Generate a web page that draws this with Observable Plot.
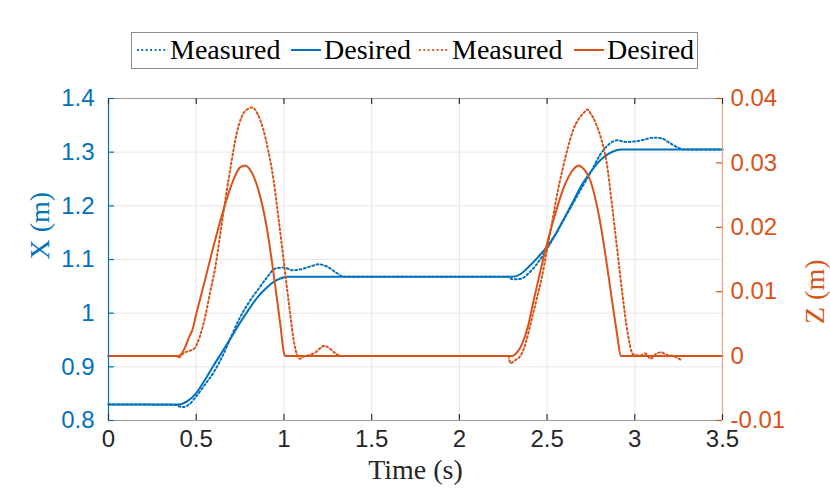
<!DOCTYPE html>
<html>
<head>
<meta charset="utf-8">
<script src="https://cdn.jsdelivr.net/npm/d3@7"></script>
<script src="https://cdn.jsdelivr.net/npm/@observablehq/plot@0.6"></script>
<style>
  html, body { margin: 0; padding: 0; background: #fff; }
  #wrap { width: 830px; height: 491px; position: relative; overflow: hidden; }
  #legendArea { width: 830px; height: 80px; position: relative; }
  #legend { position: absolute; left: 131px; top: 32px; width: 567px; height: 37px;
            border: 1px solid #8c8c8c; background: #fff; box-sizing: border-box; }
  #legend .item { position: absolute; top: 0; height: 35px; line-height: 33px;
            font-family: "Liberation Serif", serif; font-size: 28px; color: #000; white-space: nowrap; }
  #legend svg { position: absolute; top: 0; }
</style>
</head>
<body>
<div id="wrap">
  <div id="legendArea"><div id="legend"></div></div>
  <div id="chart"></div>
</div>
<script>
// ---- Data ----
const blue = "#0072BD";
const orange = "#D95319";

// Desired X (m)
const dxT = [0, 0.40, 0.45, 0.50, 0.55, 0.60, 0.65, 0.70, 0.75, 0.80, 0.85, 0.90, 0.95, 1.00, 1.02,
             2.30, 2.35, 2.40, 2.45, 2.50, 2.55, 2.60, 2.65, 2.70, 2.75, 2.80, 2.85, 2.90, 2.92, 3.50];
const dxV = [0.830, 0.830, 0.836, 0.851, 0.876, 0.903, 0.929, 0.955, 0.982, 1.007, 1.030, 1.047, 1.060, 1.067, 1.068,
             1.068, 1.073, 1.088, 1.105, 1.124, 1.148, 1.178, 1.209, 1.240, 1.264, 1.284, 1.297, 1.304, 1.305, 1.305];

// Measured X (m)
const mxT = [0, 0.38, 0.42, 0.46, 0.50, 0.55, 0.60, 0.65, 0.70, 0.75, 0.80, 0.85, 0.90, 0.95, 1.00, 1.05, 1.10, 1.15, 1.20, 1.25, 1.30, 1.34,
             2.28, 2.30, 2.35, 2.40, 2.45, 2.50, 2.55, 2.60, 2.65, 2.70, 2.75, 2.80, 2.85, 2.90, 2.95, 3.00, 3.05, 3.10, 3.15, 3.20, 3.25, 3.28, 3.50];
const mxV = [0.830, 0.829, 0.825, 0.830, 0.845, 0.867, 0.890, 0.920, 0.957, 0.992, 1.020, 1.043, 1.065, 1.083, 1.085, 1.080, 1.082, 1.087, 1.091, 1.086, 1.075, 1.068,
             1.068, 1.063, 1.064, 1.076, 1.095, 1.120, 1.148, 1.177, 1.206, 1.235, 1.263, 1.294, 1.314, 1.322, 1.319, 1.320, 1.323, 1.327, 1.326, 1.317, 1.308, 1.305, 1.305];

// Desired Z (m)
const dzT = [0, 0.40, 0.43, 0.46, 0.48, 0.50, 0.55, 0.60, 0.65, 0.70, 0.75, 0.78, 0.80, 0.85, 0.90, 0.95, 0.98, 1.00, 1.01,
             2.30, 2.33, 2.36, 2.39, 2.42, 2.45, 2.50, 2.55, 2.60, 2.65, 2.68, 2.70, 2.75, 2.80, 2.85, 2.88, 2.90, 2.92, 3.50];
const dzV = [0, 0, 0.0010, 0.0030, 0.0042, 0.0065, 0.0118, 0.0172, 0.0222, 0.0265, 0.0293, 0.0296, 0.0292, 0.0262, 0.0203, 0.0110, 0.0048, 0.0005, 0,
             0, 0.0006, 0.0020, 0.0045, 0.0082, 0.0118, 0.0175, 0.0224, 0.0265, 0.0290, 0.0296, 0.0293, 0.0270, 0.0212, 0.0125, 0.0068, 0.0032, 0, 0];

// Measured Z (m)
const mzT = [0, 0.38, 0.40, 0.43, 0.46, 0.49, 0.52, 0.55, 0.58, 0.61, 0.64, 0.67, 0.70, 0.73, 0.76, 0.79, 0.82, 0.85, 0.88, 0.91, 0.94, 0.97,
             1.00, 1.03, 1.06, 1.09, 1.12, 1.15, 1.18, 1.21, 1.23, 1.26, 1.29, 1.33,
             2.28, 2.29, 2.32, 2.35, 2.38, 2.41, 2.44, 2.47, 2.50, 2.53, 2.56, 2.59, 2.62, 2.65, 2.68, 2.71, 2.73, 2.75, 2.78, 2.81, 2.84, 2.87,
             2.90, 2.93, 2.96, 2.99, 3.03, 3.06, 3.09, 3.12, 3.15, 3.18, 3.22, 3.27];
const mzV = [0, 0, -0.0002, 0.0005, 0.0008, 0.0012, 0.0030, 0.0060, 0.0100, 0.0140, 0.0195, 0.0250, 0.0300, 0.0345, 0.0372, 0.0383, 0.0386, 0.0376, 0.0354, 0.0320, 0.0275, 0.0212,
             0.0145, 0.0078, 0.0018, -0.0004, 0.0000, 0.0002, 0.0006, 0.0013, 0.0016, 0.0012, 0.0005, 0,
             0, -0.0011, -0.0006, 0.0001, 0.0022, 0.0055, 0.0088, 0.0122, 0.0165, 0.0210, 0.0255, 0.0292, 0.0325, 0.0352, 0.0368, 0.0378, 0.0383, 0.0376, 0.0360, 0.0336, 0.0300, 0.0235,
             0.0165, 0.0095, 0.0035, 0.0003, 0.0001, 0.0004, -0.0004, 0.0003, 0.0006, 0.0002, 0.0000, -0.0007];

// Axes
const xDomain = [0, 3.5];
const xTicks = [0, 0.5, 1, 1.5, 2, 2.5, 3, 3.5];
const yDomain = [0.8, 1.4];
const yTicks = [0.8, 0.9, 1.0, 1.1, 1.2, 1.3, 1.4];
const zDomain = [-0.01, 0.04];
const zTicks = [-0.01, 0, 0.01, 0.02, 0.03, 0.04];

const legendItems = [
  {label: "Measured", color: blue, dotted: true},
  {label: "Desired", color: blue, dotted: false},
  {label: "Measured", color: orange, dotted: true},
  {label: "Desired", color: orange, dotted: false}
];

// ---- helpers ----
const zToY = z => yDomain[0] + (z - zDomain[0]) * (yDomain[1] - yDomain[0]) / (zDomain[1] - zDomain[0]);
const yToZ = y => zDomain[0] + (y - yDomain[0]) * (zDomain[1] - zDomain[0]) / (yDomain[1] - yDomain[0]);
const rows = (T, V) => T.map((t, i) => ({t, v: V[i]}));

const dX = rows(dxT, dxV), mX = rows(mxT, mxV), dZ = rows(dzT, dzV), mZ = rows(mzT, mzV);

const dash = "1.8,2.6";
const serif = "Liberation Serif";
const curve = "monotone-x";

const chart = Plot.plot({
  width: 830,
  height: 411,
  marginTop: 18,
  marginBottom: 71,
  marginLeft: 108,
  marginRight: 108,
  style: {fontFamily: "Liberation Sans", fontSize: "24px", background: "#fff"},
  x: {domain: xDomain},
  y: {domain: yDomain},
  marks: [
    Plot.gridX(xTicks, {stroke: "#e6e6e6", strokeOpacity: 1}),
    Plot.gridY(yTicks, {stroke: "#e6e6e6", strokeOpacity: 1}),
    Plot.line(mX, {x: "t", y: "v", curve, stroke: blue, strokeWidth: 2, strokeDasharray: dash}),
    Plot.line(dX, {x: "t", y: "v", curve, stroke: blue, strokeWidth: 2}),
    Plot.line(mZ, {x: "t", y: d => zToY(d.v), curve, stroke: orange, strokeWidth: 2, strokeDasharray: dash}),
    Plot.line(dZ, {x: "t", y: d => zToY(d.v), curve, stroke: orange, strokeWidth: 2}),
    // box
    Plot.ruleY([yDomain[0], yDomain[1]], {stroke: "#999", strokeWidth: 1.2}),
    Plot.ruleX([xDomain[0]], {stroke: blue, strokeWidth: 1.2}),
    Plot.ruleX([xDomain[1]], {stroke: "#e8a385", strokeWidth: 1.2}),
    // inward ticks
    Plot.ruleX(xTicks, {x: d => d, y1: yDomain[0], y2: yDomain[0], insetBottom: 6, stroke: "#333", strokeWidth: 1.2}),
    Plot.ruleX(xTicks, {x: d => d, y1: yDomain[1], y2: yDomain[1], insetTop: 6, stroke: "#333", strokeWidth: 1.2}),
    Plot.ruleY(yTicks, {y: d => d, x1: xDomain[0], x2: xDomain[0], insetLeft: 6, stroke: blue, strokeWidth: 1.2}),
    Plot.ruleY(zTicks.map(zToY), {y: d => d, x1: xDomain[1], x2: xDomain[1], insetRight: 6, stroke: orange, strokeWidth: 1.2}),
    // tick labels
    Plot.axisX(xTicks, {anchor: "bottom", tickSize: 0, tickPadding: 9, fill: "#262626", tickFormat: d => String(d), label: null}),
    Plot.axisY(yTicks, {anchor: "left", tickSize: 0, tickPadding: 14, fill: blue, tickFormat: d => String(Math.round(d * 10) / 10), label: null}),
    Plot.axisY(zTicks.map(zToY), {anchor: "right", tickSize: 0, tickPadding: 8, fill: orange, tickFormat: d => String(Math.round(yToZ(d) * 100) / 100), label: null}),
    // axis titles
    Plot.text(["Time (s)"], {frameAnchor: "bottom", dy: 50, fontFamily: serif, fontSize: 28, fill: "#262626", lineAnchor: "middle"}),
    Plot.text(["X (m)"], {frameAnchor: "left", dx: -68, rotate: -90, fontFamily: serif, fontSize: 28, fill: blue}),
    Plot.text(["Z (m)"], {frameAnchor: "right", dx: 93, rotate: -90, fontFamily: serif, fontSize: 28, fill: orange})
  ]
});
document.getElementById("chart").appendChild(chart);

// ---- legend ----
const legend = document.getElementById("legend");
const layout = [ // [lineStart, lineEnd, textStart] relative to the legend box
  [4, 35, 38], [158, 188, 192], [286, 317, 320], [441, 471, 475]
];
legendItems.forEach((it, i) => {
  const [a, b, c] = layout[i];
  const s = document.createElementNS("http://www.w3.org/2000/svg", "svg");
  s.setAttribute("width", b - a + 2);
  s.setAttribute("height", 35);
  s.style.left = a + "px";
  const ln = document.createElementNS("http://www.w3.org/2000/svg", "line");
  ln.setAttribute("x1", 1); ln.setAttribute("x2", b - a + 1);
  ln.setAttribute("y1", 17); ln.setAttribute("y2", 17);
  ln.setAttribute("stroke", it.color);
  ln.setAttribute("stroke-width", 2);
  if (it.dotted) ln.setAttribute("stroke-dasharray", dash);
  s.appendChild(ln);
  legend.appendChild(s);
  const sp = document.createElement("span");
  sp.className = "item";
  sp.style.left = c + "px";
  sp.textContent = it.label;
  legend.appendChild(sp);
});
</script>
</body>
</html>
